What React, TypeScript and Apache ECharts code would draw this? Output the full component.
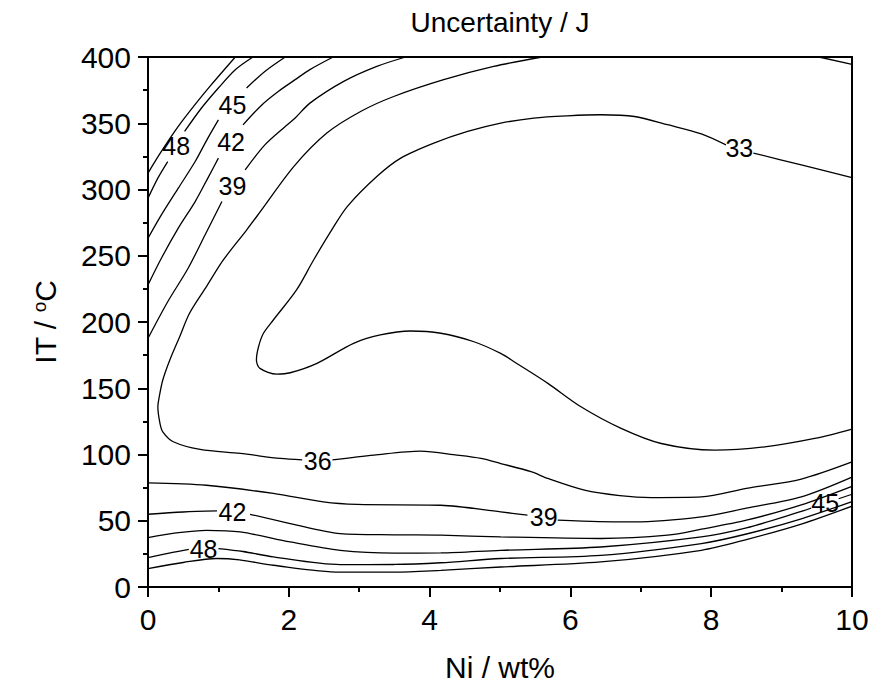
import React, { useEffect, useRef } from "react";
import * as echarts from "echarts";

const FONT = '"Liberation Sans", Arial, Helvetica, sans-serif';

// Axis ranges / tick steps
const xRange = [0, 10];
const xStep = 2;
const yRange = [0, 400];
const yStep = 50;

// Contour lines (x = Ni wt%, y = IT °C); null = gap left for a label
const c33 = [
  [10, 309.0], [9.28, 318.5], [8.6, 327.5], null,
  [8.21, 333.7], [7.86, 342.0], [7.38, 348.9], [6.91, 355.1], [6.43, 356.4], [5.96, 355.6],
  [5.48, 353.9], [5.01, 350.1], [4.54, 343.8], [4.06, 335.0], [3.59, 323.7], [3.25, 309.8],
  [2.83, 287.1], [2.61, 269.5], [2.35, 246.6], [2.11, 224.2], [1.78, 201.5], [1.64, 191.5],
  [1.57, 181.3], [1.54, 171.3], [1.59, 165.0], [1.83, 160.7], [2.02, 161.7], [2.4, 168.8],
  [2.92, 183.9], [3.3, 190.2], [3.73, 193.2], [4.16, 191.5], [4.63, 185.1], [5.01, 176.3],
  [5.2, 170.0], [5.68, 153.7], [6.15, 136.0], [6.72, 119.7], [7.29, 108.3], [8.05, 103.3],
  [8.76, 105.8], [9.47, 112.1], [10, 119.2],
];
const c36 = [
  [5.6, 400], [4.91, 392.9], [4.2, 382.9], [3.49, 370.2], [3.02, 358.9], [2.54, 342.6],
  [2.07, 317.3], [1.59, 282.9], [1.4, 269.4], [1.07, 246.8], [0.83, 226.7], [0.59, 206.6],
  [0.45, 188.9], [0.31, 171.3], [0.21, 156.2], [0.16, 143.6], [0.14, 136.0], [0.17, 123.5],
  [0.21, 117.1], [0.36, 109.6], [0.74, 103.8], [1.31, 100.8], [1.88, 97.0], [2.19, 95.9], null,
  [2.62, 95.9], [3.21, 99.5], [3.87, 102.5], [4.39, 99.5], [4.73, 97.0], [5.01, 93.2],
  [5.44, 87.0], [5.68, 81.9], [6.2, 73.1], [6.7, 69.0], [7.15, 67.5], [7.86, 68.0],
  [8.5, 74.4], [9.28, 81.5], [10, 94.4],
];
const c36Corner = [[9.53, 400], [10, 394.5]];
const c39Upper = [
  [0, 187.7], [0.28, 215.3], [0.57, 240.6], [0.81, 265.7], [1.05, 290.9], null,
  [1.38, 314.8], [1.66, 333.7], [1.95, 347.6], [2.09, 353.9], [2.3, 365.2], [2.78, 381.6],
  [3.25, 392.9], [3.66, 400],
];
const c39Lower = [
  [0, 78.6], [0.83, 76.8], [1.78, 70.6], [2.49, 64.2], [2.97, 62.3], [4.16, 61.7],
  [5.01, 56.7], [5.39, 54.2], null,
  [5.82, 50.4], [6.4, 49.3], [6.9, 49.1], [7.86, 52.9], [8.5, 59.5], [9.28, 68.0], [10, 82.9],
];
const c42Upper = [
  [0, 228.0], [0.19, 248.1], [0.43, 270.8], [0.67, 290.9], [0.85, 308.6], [1.0, 323.7], null,
  [1.35, 348.8], [1.62, 364.0], [1.85, 374.0], [2.09, 382.9], [2.3, 390.5], [2.63, 400],
];
const c42Lower = [
  [0, 54.9], [0.5, 56.6], [0.98, 57.4], null,
  [1.45, 54.9], [2.02, 47.9], [2.73, 40.3], [3.5, 39.4], [4.16, 39.1], [5.01, 37.8],
  [6.43, 36.6], [7.38, 39.1], [7.86, 43.6], [8.5, 50.4], [9.28, 62.0], [10, 76.0],
];
const c45Upper = [
  [0, 263.2], [0.19, 280.8], [0.43, 301.0], [0.67, 321.1], [0.85, 338.8], [1.0, 352.6], null,
  [1.4, 376.6], [1.66, 389.1], [1.95, 400],
];
const c45Lower = [
  [0, 37.3], [0.4, 40.8], [0.83, 42.8], [1.31, 41.6], [2.02, 34.0], [2.73, 27.7], [3.5, 25.6],
  [4.16, 25.7], [5.01, 27.7], [6.43, 30.2], [7.86, 37.8], [8.5, 44.6], [9.28, 57.0],
  [9.42, 59.5], null, [9.81, 66.6], [10, 70.0],
];
const c48Upper = [
  [0, 293.5], [0.14, 308.6], [0.28, 321.1], null,
  [0.52, 343.8], [0.76, 361.5], [1.0, 376.6], [1.24, 390.4], [1.49, 400],
];
const c48Lower = [
  [0, 22.2], [0.3, 25.6], [0.58, 28.4], null,
  [1.0, 29.0], [1.35, 26.8], [1.78, 22.7], [2.73, 16.9], [3.5, 17.0], [4.16, 18.3],
  [5.01, 21.5], [6.43, 23.9], [7.86, 32.8], [8.5, 40.0], [9.28, 51.5], [10, 64.5],
];
const c51Upper = [
  [0, 312.4], [0.19, 328.7], [0.43, 347.6], [0.67, 364.2], [0.9, 379.1], [1.24, 400],
];
const c51Lower = [
  [0, 13.9], [0.5, 18.5], [0.97, 21.5], [1.3, 20.5], [1.78, 16.4], [2.73, 11.3], [3.5, 11.2],
  [4.16, 12.6], [5.01, 15.1], [6.43, 18.9], [7.86, 27.7], [8.5, 35.8], [9.28, 47.5], [10, 61.0],
];

// Contour labels: [x, y, text]
const contourLabels = [
  [8.4, 331.5, "33"],
  [2.41, 95.1, "36"],
  [1.2, 302.8, "39"],
  [1.18, 335.8, "42"],
  [1.2, 364.0, "45"],
  [0.4, 332.5, "48"],
  [5.62, 52.9, "39"],
  [1.2, 56.7, "42"],
  [0.79, 29.0, "48"],
  [9.62, 63.2, "45"],
];

const allContours = [
  c33, c36, c36Corner, c39Upper, c39Lower, c42Upper, c42Lower,
  c45Upper, c45Lower, c48Upper, c48Lower, c51Upper, c51Lower,
];

function splitSegments(pts: (number[] | null)[]) {
  const out: number[][][] = [[]];
  for (const p of pts) {
    if (p === null) out.push([]);
    else out[out.length - 1].push(p);
  }
  return out.filter((s) => s.length > 1);
}

export default function App() {
  const ref = useRef<HTMLDivElement>(null);
  useEffect(() => {
    if (!ref.current) return;
    const chart = echarts.init(ref.current, undefined, { renderer: "svg" });
    const lineSeries: any[] = [];
    allContours.forEach((c) => {
      splitSegments(c as any).forEach((seg) => {
        lineSeries.push({
          type: "line",
          data: seg,
          showSymbol: false,
          symbol: "none",
          smooth: 0.3,
          silent: true,
          lineStyle: { color: "#000", width: 1.3 },
          z: 3,
        });
      });
    });
    const axisCommon = {
      axisLine: { show: true, lineStyle: { color: "#000", width: 2 } },
      axisTick: { show: true, inside: false, length: 10, lineStyle: { color: "#000", width: 2 } },
      minorTick: { show: true, splitNumber: 2, length: 5, lineStyle: { color: "#000", width: 2 } },
      splitLine: { show: false },
      axisLabel: { color: "#000", fontSize: 30, fontFamily: FONT, margin: 17 },
    };
    chart.setOption({
      animation: false,
      backgroundColor: "#fff",
      grid: {
        left: 148,
        right: 33,
        top: 57,
        bottom: 106,
        show: true,
        borderColor: "#000",
        borderWidth: 2,
      },
      graphic: [
        {
          type: "text",
          x: 500,
          y: 22,
          style: {
            text: "Uncertainty / J",
            fill: "#000",
            font: `28px ${FONT}`,
            textAlign: "center",
            textVerticalAlign: "middle",
          },
        },
      ],
      xAxis: {
        type: "value",
        min: xRange[0],
        max: xRange[1],
        interval: xStep,
        name: "Ni / wt%",
        nameLocation: "middle",
        nameGap: 65,
        nameTextStyle: { color: "#000", fontSize: 30, fontFamily: FONT },
        ...axisCommon,
      },
      yAxis: {
        type: "value",
        min: yRange[0],
        max: yRange[1],
        interval: yStep,
        name: "IT / {sup|o}C",
        nameLocation: "middle",
        nameRotate: 90,
        nameGap: 88,
        nameTextStyle: {
          color: "#000",
          fontSize: 30,
          fontFamily: FONT,
          rich: {
            sup: { fontSize: 19, fontFamily: FONT, color: "#000", verticalAlign: "top", padding: [0, 0, 11, 0] },
          },
        },
        ...axisCommon,
      },
      series: [
        ...lineSeries,
        {
          type: "scatter",
          data: contourLabels,
          symbolSize: 0,
          silent: true,
          z: 5,
          itemStyle: { color: "#000" },
          label: {
            show: true,
            position: "inside",
            formatter: (p: any) => p.data[2],
            color: "#000",
            textBorderWidth: 0,
            textBorderColor: "transparent",
            opacity: 1,
            fontSize: 25,
            fontFamily: FONT,
          },
        },
      ],
    });
    return () => chart.dispose();
  }, []);
  return (
    <div
      ref={ref}
      style={{ position: "fixed", left: 0, top: 0, width: 885, height: 693, background: "#fff" }}
    />
  );
}
